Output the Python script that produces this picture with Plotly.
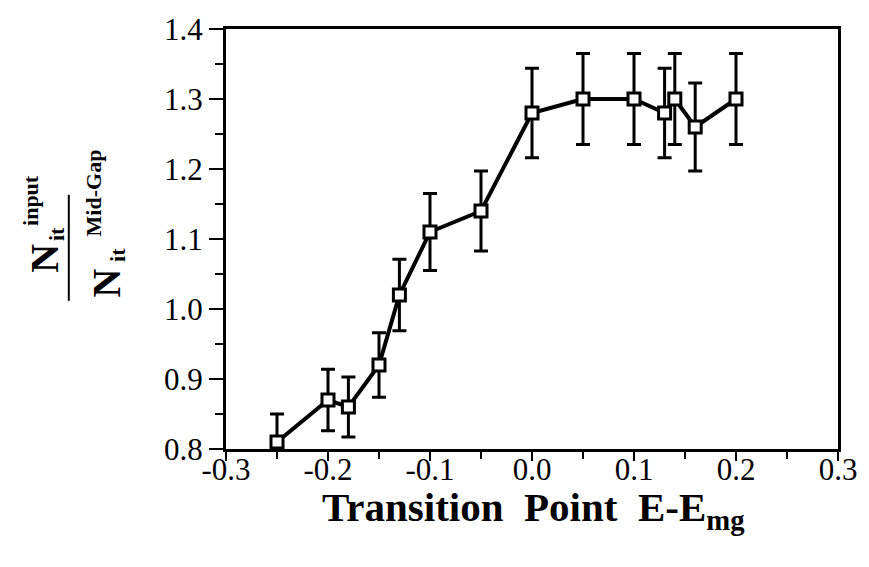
import plotly.graph_objects as go

# ---- data ----
x_vals = [-0.25, -0.20, -0.18, -0.15, -0.13, -0.10, -0.05, 0.00, 0.05, 0.10, 0.13, 0.14, 0.16, 0.20]
y_vals = [0.81, 0.87, 0.86, 0.92, 1.02, 1.11, 1.14, 1.28, 1.30, 1.30, 1.28, 1.30, 1.26, 1.30]
y_err = [0.040, 0.044, 0.043, 0.046, 0.051, 0.055, 0.057, 0.064, 0.065, 0.065, 0.064, 0.065, 0.063, 0.065]

x_ticks = [-0.3, -0.2, -0.1, 0.0, 0.1, 0.2, 0.3]
x_ticklabels = ["-0.3", "-0.2", "-0.1", "0.0", "0.1", "0.2", "0.3"]
y_ticks = [0.8, 0.9, 1.0, 1.1, 1.2, 1.3, 1.4]
y_ticklabels = ["0.8", "0.9", "1.0", "1.1", "1.2", "1.3", "1.4"]

W, H = 869, 567
L, R, T, B = 226, 24, 21, 118
PW, PH = W - L - R, H - T - B


def px(xp):
    return (xp - L) / PW


def py(yp):
    return (H - B - yp) / PH


SERIF = "Liberation Serif, Times New Roman, serif"

fig = go.Figure()
fig.add_trace(go.Scatter(
    x=x_vals, y=y_vals,
    mode="lines+markers",
    line=dict(color="black", width=4),
    marker=dict(symbol="square", size=12, color="white",
                line=dict(color="black", width=3)),
    error_y=dict(type="data", array=y_err, visible=True,
                 color="black", thickness=3, width=7),
    showlegend=False,
))

axis_common = dict(
    showline=True, linecolor="black", linewidth=3, mirror=True,
    showgrid=False, zeroline=False,
    ticks="outside", tickcolor="black", tickwidth=2,
    tickfont=dict(family=SERIF, size=31, color="black"),
)

fig.update_xaxes(
    range=[-0.3, 0.3], tickvals=x_ticks, ticktext=x_ticklabels,
    ticklen=9, ticklabelstandoff=-18,
    minor=dict(dtick=0.05, tick0=0, ticks="outside", ticklen=7,
               tickcolor="black", tickwidth=2, showgrid=False),
    **axis_common,
)
fig.update_yaxes(
    range=[0.8, 1.4], tickvals=y_ticks, ticktext=y_ticklabels,
    ticklen=14,
    minor=dict(dtick=0.05, tick0=0, ticks="outside", ticklen=8,
               tickcolor="black", tickwidth=2, showgrid=False),
    **axis_common,
)

ann = []


def lab(text, xp, yp, size, angle=-90):
    ann.append(dict(text="<b>" + text + "</b>", x=px(xp), y=py(yp),
                    xref="paper", yref="paper", showarrow=False,
                    textangle=angle, xanchor="center", yanchor="middle",
                    font=dict(family=SERIF, size=size, color="black")))


# x-axis title
lab("Transition\u00a0\u00a0Point\u00a0\u00a0E-E<sub>mg</sub>", 537, 511, 41, angle=0)

# y-axis title: fraction N_it^input / N_it^Mid-Gap
lab("N", 43, 255, 40)
lab("it", 54, 230, 22)
lab("input", 28, 196, 22)
lab("N", 105, 280, 40)
lab("it", 116, 251, 22)
lab("Mid-Gap", 92, 188, 22)

fig.add_shape(type="line", xref="paper", yref="paper",
              x0=px(67), x1=px(67), y0=py(190), y1=py(298),
              line=dict(color="black", width=2))

fig.update_layout(
    width=W, height=H,
    margin=dict(l=L, r=R, t=T, b=B),
    paper_bgcolor="white", plot_bgcolor="white",
    annotations=ann,
)

fig.write_html("out.html")
